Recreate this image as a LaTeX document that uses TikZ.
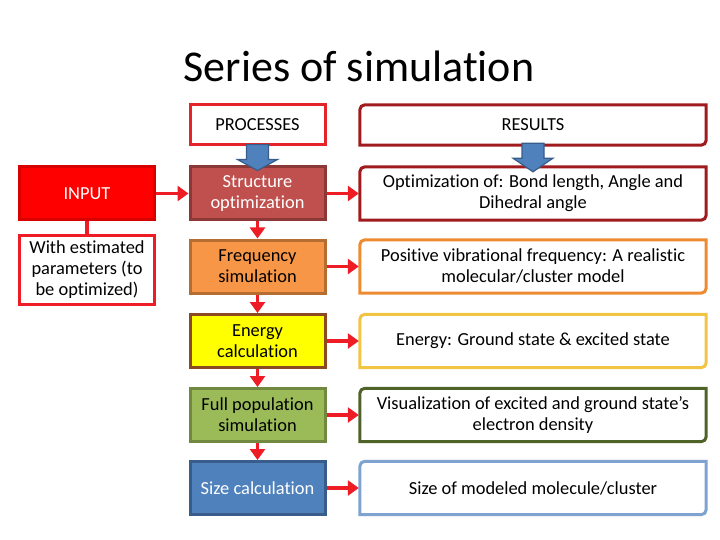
\documentclass[tikz,border=0pt]{standalone}
\usepackage{fontspec}
\setmainfont{Carlito}[Ligatures=NoCommon]
\usetikzlibrary{arrows.meta}
\definecolor{redline}{HTML}{EE1C24}
\definecolor{procred}{HTML}{E3242B}
\definecolor{resred}{HTML}{A01B1E}
\definecolor{sfill}{HTML}{C0504D}\definecolor{sdraw}{HTML}{8C3836}
\definecolor{ffill}{HTML}{F79646}\definecolor{fdraw}{HTML}{B66D31}
\definecolor{efill}{HTML}{FFFF00}\definecolor{edraw}{HTML}{8B4A22}
\definecolor{pfill}{HTML}{9BBB59}\definecolor{pdraw}{HTML}{71893F}
\definecolor{zfill}{HTML}{4F81BD}\definecolor{zdraw}{HTML}{385D8A}
\definecolor{r2}{HTML}{EE8A30}
\definecolor{r3}{HTML}{F2C443}
\definecolor{r4}{HTML}{4F6228}
\definecolor{r5}{HTML}{7FA3D0}
\newcommand\rframe[2]{\draw[line width=3pt,#2] (#1.south west) -- ([yshift=-5pt]#1.north west) arc[start angle=180,end angle=90,radius=5pt] -- (#1.north east) -- ([yshift=5pt]#1.south east) arc[start angle=0,end angle=-90,radius=5pt] -- cycle;}
\tikzset{
  txt/.style={font=\fontsize{18.4}{21}\selectfont, align=center, inner sep=0pt},
  pbox/.style={txt, draw, line width=3pt, minimum width=135pt, minimum height=53pt},
  rbox/.style={txt, minimum width=346pt, minimum height=53pt},
  rarrow/.style={draw=redline, line width=3.5pt, -{Triangle[length=11pt,width=15pt]}},
  bluearrow/.style={fill=zfill, draw=zdraw, line width=1.2pt, line join=miter}
}
\begin{document}
\begin{tikzpicture}[x=1pt,y=-1pt]
\useasboundingbox (0,0) rectangle (720,540);
\node[font=\fontsize{44}{50}\selectfont, anchor=base, inner sep=0pt] (title) at (359,82) {Series of simulation};

\node[pbox, draw=procred, fill=white, minimum height=40pt] (proc) at (257.5,125) {PROCESSES};
\node[rbox, minimum height=40pt] (res) at (533,125) {RESULTS};
\rframe{res}{resred}

\node[pbox, draw=red!85!black, fill=red, text=white] (input) at (87,193.5) {INPUT};
\node[pbox, draw=redline, fill=white, minimum height=69pt] (est) at (87,269.5) {With estimated\\parameters (to\\be optimized)};

\node[pbox, draw=sdraw, fill=sfill, text=white] (s1) at (257.5,193.5) {Structure\\optimization};
\node[pbox, draw=fdraw, fill=ffill] (s2) at (257.5,266.5) {Frequency\\simulation};
\node[pbox, draw=edraw, fill=efill] (s3) at (257.5,341) {Energy\\calculation};
\node[pbox, draw=pdraw, fill=pfill] (s4) at (257.5,415) {Full population\\simulation};
\node[pbox, draw=zdraw, fill=zfill, text=white] (s5) at (257.5,488) {Size calculation};

\node[rbox] (q1) at (533,193.5) {Optimization of: Bond length, Angle and\\Dihedral angle};
\node[rbox] (q2) at (533,266.5) {Positive vibrational frequency: A realistic\\molecular/cluster model};
\node[rbox] (q3) at (533,341) {Energy: Ground state \& excited state};
\node[rbox] (q4) at (533,415) {Visualization of excited and ground state’s\\electron density};
\node[rbox] (q5) at (533,488) {Size of modeled molecule/cluster};
\rframe{q1}{resred}
\rframe{q2}{r2}
\rframe{q3}{r3}
\rframe{q4}{r4}
\rframe{q5}{r5}

\draw[draw=redline, line width=3.5pt] (input.south) -- (est.north);
\draw[rarrow] (input.east) -- (s1.west);
\foreach \a/\b in {s1/s2,s2/s3,s3/s4,s4/s5} \draw[rarrow] (\a.south) -- (\b.north);
\foreach \i in {1,...,5} \draw[rarrow] (s\i.east) -- ([xshift=-1pt]q\i.west);

\foreach \n/\m in {proc/s1,res/q1}
  \draw[bluearrow] ([xshift=-11pt,yshift=2pt]\n.south) -- ([xshift=-11pt,yshift=-13pt]\n.south) -- ([xshift=-20pt,yshift=-13pt]\n.south) -- ([yshift=-5pt]\m.north) -- ([xshift=20pt,yshift=-13pt]\n.south) -- ([xshift=11pt,yshift=-13pt]\n.south) -- ([xshift=11pt,yshift=2pt]\n.south) -- cycle;
\end{tikzpicture}
\end{document}
